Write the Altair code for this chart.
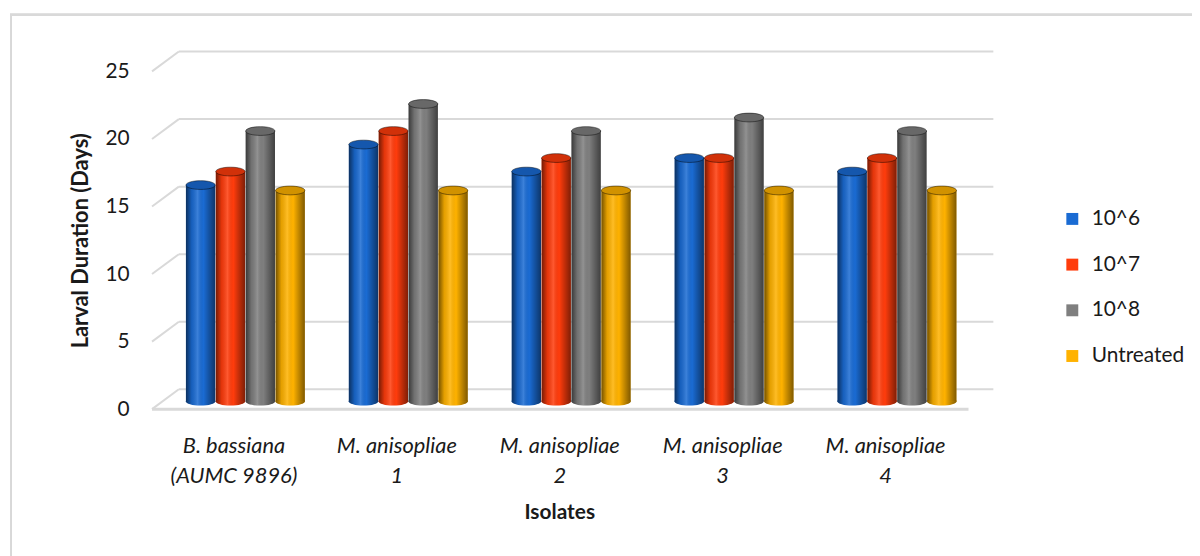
import altair as alt
import pandas as pd

# ---- data ----
isolates = ["B. bassiana|(AUMC 9896)", "M. anisopliae|1", "M. anisopliae|2",
            "M. anisopliae|3", "M. anisopliae|4"]
series = ["10^6", "10^7", "10^8", "Untreated"]
v_1e6 = [16, 19, 17, 18, 17]
v_1e7 = [17, 20, 18, 18, 18]
v_1e8 = [20, 22, 20, 21, 20]
v_untreated = [15.6, 15.6, 15.6, 15.6, 15.6]
y_ticks = [0, 5, 10, 15, 20, 25]
colors = ["#1a6bd3", "#ff3c0c", "#7f7f7f", "#ffb200"]

rows = []
for s, vals in zip(series, [v_1e6, v_1e7, v_1e8, v_untreated]):
    for iso, v in zip(isolates, vals):
        rows.append({"isolate": iso, "series": s, "value": v, "zero": 0})
df = pd.DataFrame(rows)
grid_df = pd.DataFrame({"v": y_ticks})

FONT = "Lato"
TXT = "#1a1a1a"
W, H = 820, 340
DX, DY = 12, -8  # pseudo-3D depth offset of the cylinders

band = dict(paddingInner=0.27, paddingOuter=0.135)
x_axis_enc = alt.X("isolate:N", sort=isolates, scale=alt.Scale(**band),
                   axis=alt.Axis(title="Isolates", labelExpr="split(datum.label, '|')",
                                 labelAngle=0, labelFont=FONT, labelFontSize=22,
                                 labelFontStyle="italic", labelColor=TXT,
                                 labelPadding=27, labelLineHeight=30,
                                 titleFont=FONT, titleFontSize=21, titleFontWeight="bold",
                                 titleColor=TXT, titlePadding=15,
                                 domain=False, ticks=False, grid=False))
x_bar_enc = alt.X("isolate:N", sort=isolates,
                  scale=alt.Scale(range=[DX, W + DX], **band), axis=None)
xoff = alt.XOffset("series:N", sort=series, scale=alt.Scale(paddingInner=0.02))
y_scale = alt.Scale(domain=[0, 25], nice=False)
y_enc = alt.Y("value:Q", scale=y_scale,
              axis=alt.Axis(title="Larval Duration (Days)", values=y_ticks,
                            labelFont=FONT, labelFontSize=21, labelColor=TXT,
                            labelPadding=23, titleFont=FONT, titleFontSize=22,
                            titleFontWeight="bold", titleColor=TXT,
                            titlePadding=13, domain=False, ticks=False, grid=False))
color_enc = alt.Color("series:N", sort=series,
                      scale=alt.Scale(domain=series, range=colors),
                      legend=alt.Legend(title=None, orient="none", legendX=916, legendY=138,
                                        symbolType="square", symbolSize=144,
                                        symbolStrokeWidth=0, labelFont=FONT,
                                        labelFontSize=21, labelColor=TXT,
                                        labelOffset=9, rowPadding=24, padding=0))

GRID = "#d9d9d9"
border = alt.Chart(grid_df).mark_rect(fill=None, stroke=GRID, strokeWidth=2).encode(
    x=alt.value(-142), x2=alt.value(1060), y=alt.value(-57), y2=alt.value(500))
diag = alt.Chart(grid_df).mark_rule(color=GRID, strokeWidth=2, y2Offset=-20).encode(
    x=alt.value(0), x2=alt.value(27), y=alt.Y("v:Q", scale=y_scale), y2="v:Q")
back = alt.Chart(grid_df).mark_rule(color=GRID, strokeWidth=2, yOffset=-20).encode(
    x=alt.value(27), x2=alt.value(847), y=alt.Y("v:Q", scale=y_scale))
front_edge = alt.Chart(grid_df[grid_df.v == 0]).mark_rule(color=GRID, strokeWidth=3).encode(
    x=alt.value(0), x2=alt.value(822), y=alt.Y("v:Q", scale=y_scale))

ellipse = "M-1,0A1,0.3,0,1,1,1,0A1,0.3,0,1,1,-1,0Z"
side_grad = alt.Gradient(gradient="linear", x1=0, x2=1, y1=0, y2=0,
                         stops=[alt.GradientStop(color="rgba(0,0,0,0.55)", offset=0),
                                alt.GradientStop(color="rgba(0,0,0,0.1)", offset=0.2),
                                alt.GradientStop(color="rgba(255,255,255,0.15)", offset=0.4),
                                alt.GradientStop(color="rgba(0,0,0,0.0)", offset=0.6),
                                alt.GradientStop(color="rgba(0,0,0,0.5)", offset=1)])

base = alt.Chart(df)
# axis-only layer (invisible), carrying the category labels under the front edge
axis_layer = base.mark_point(opacity=0).encode(x=x_axis_enc, y=y_enc)

bottom_cap = base.mark_point(shape=ellipse, size=870, filled=True, opacity=1, yOffset=DY).encode(
    x=x_bar_enc, xOffset=xoff, y=alt.Y("zero:Q", scale=y_scale), color=color_enc)
bottom_shade = base.mark_point(shape=ellipse, size=870, filled=True, opacity=1, yOffset=DY,
                               color=side_grad).encode(
    x=x_bar_enc, xOffset=xoff, y=alt.Y("zero:Q", scale=y_scale))
bars = base.mark_bar(yOffset=DY, y2Offset=DY).encode(
    x=x_bar_enc, xOffset=xoff, y=alt.Y("value:Q", scale=y_scale), y2="zero:Q", color=color_enc)
shade = base.mark_bar(yOffset=DY, y2Offset=DY, color=side_grad).encode(
    x=x_bar_enc, xOffset=xoff, y=alt.Y("value:Q", scale=y_scale), y2="zero:Q")
top_cap = base.mark_point(shape=ellipse, size=870, filled=True, opacity=1, yOffset=DY,
                          stroke="rgba(0,0,0,0.45)", strokeWidth=1).encode(
    x=x_bar_enc, xOffset=xoff, y=alt.Y("value:Q", scale=y_scale), color=color_enc)
top_shade = base.mark_point(shape=ellipse, size=870, filled=True, opacity=1, yOffset=DY,
                            color="rgba(0,0,0,0.18)").encode(
    x=x_bar_enc, xOffset=xoff, y=alt.Y("value:Q", scale=y_scale))

cylinders = alt.layer(bottom_cap, bottom_shade, bars, shade, top_cap, top_shade)

chart = alt.layer(border, diag, back, front_edge, axis_layer, cylinders).resolve_scale(
    x="independent").properties(
    width=W, height=H,
    autosize=alt.AutoSizeParams(type="none"),
    padding={"left": 145, "top": 62, "right": 227, "bottom": 146},
).configure(background="white").configure_view(stroke=None)

chart.save("out.html", embed_options={"renderer": "svg", "actions": False})
